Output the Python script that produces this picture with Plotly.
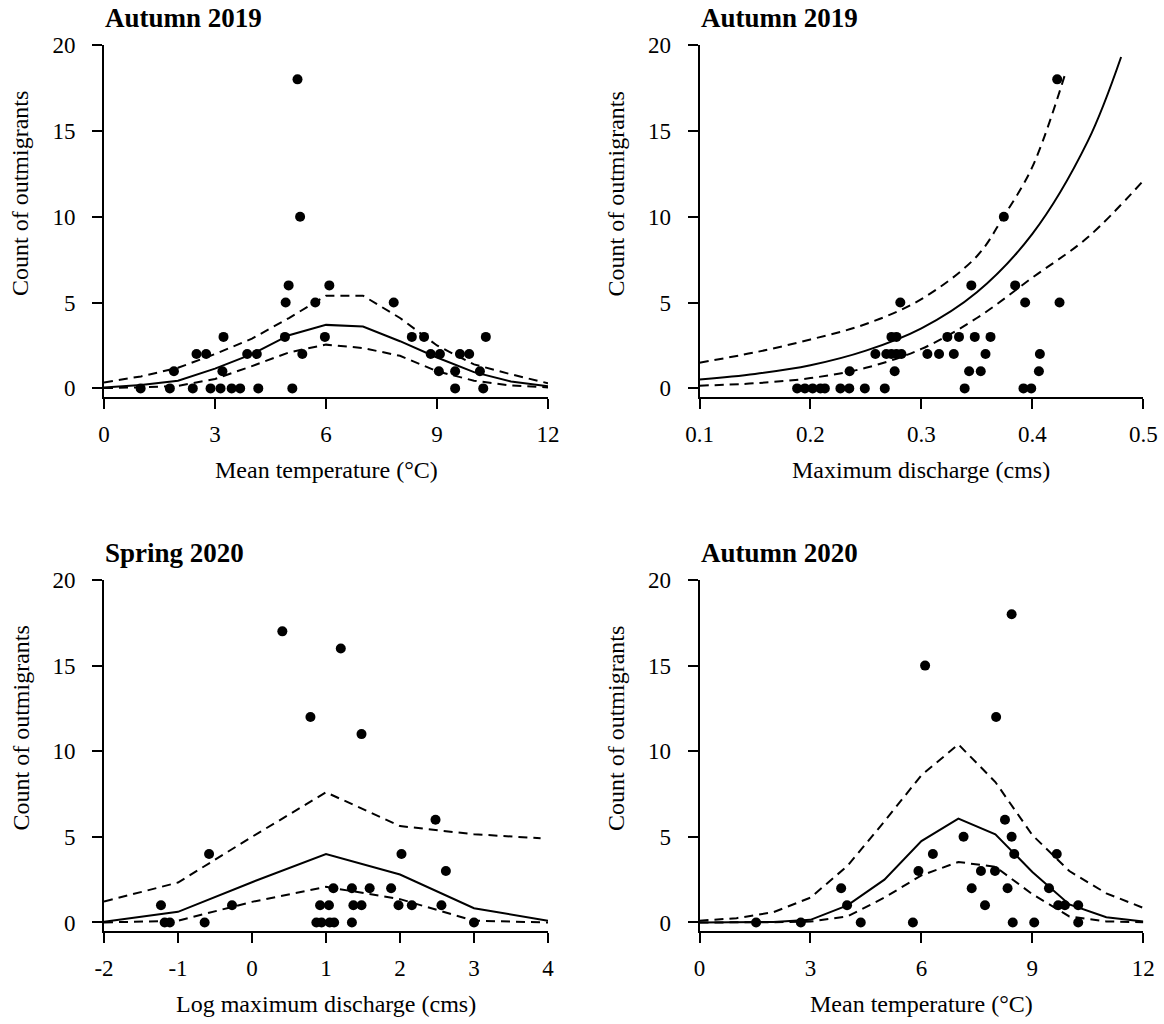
import plotly.graph_objects as go

FONT = "Liberation Serif, Times New Roman, serif"

# ---------------- Panel 1: Autumn 2019 vs mean temperature ----------------
a19_temp_x = [5.23, 5.30, 4.99, 6.09, 4.91, 5.71, 7.83,
              3.23, 4.89, 5.97, 8.32, 8.65, 10.32,
              2.50, 2.76, 3.87, 4.13, 5.36, 8.83, 9.08, 9.62, 9.87,
              1.89, 3.20, 9.05, 9.49, 10.16,
              0.99, 1.78, 2.40, 2.88, 3.15, 3.45, 3.68, 4.17, 5.09, 9.49, 10.25]
a19_temp_y = [18, 10, 6, 6, 5, 5, 5,
              3, 3, 3, 3, 3, 3,
              2, 2, 2, 2, 2, 2, 2, 2, 2,
              1, 1, 1, 1, 1,
              0, 0, 0, 0, 0, 0, 0, 0, 0, 0, 0]
a19_temp_grid = [0, 1, 2, 3, 4, 5, 6, 7, 8, 9, 10, 11, 12]
a19_temp_fit = [0.06, 0.2, 0.45, 1.15, 2.0, 3.1, 3.7, 3.6, 2.75, 1.8, 0.95, 0.4, 0.12]
a19_temp_upper = [0.35, 0.7, 1.2, 2.0, 2.9, 4.1, 5.4, 5.4, 4.1, 2.5, 1.4, 0.82, 0.3]
a19_temp_lower = [0.02, 0.06, 0.15, 0.55, 1.3, 2.1, 2.55, 2.35, 1.9, 1.0, 0.45, 0.17, 0.06]

# ---------------- Panel 2: Autumn 2019 vs maximum discharge ----------------
a19_dis_x = [0.4224, 0.3743, 0.345, 0.3845, 0.281, 0.3935, 0.4245,
             0.273, 0.2775, 0.3234, 0.3339, 0.3481, 0.3623,
             0.2585, 0.2684, 0.2730, 0.2775, 0.2820, 0.3054, 0.3159, 0.3292, 0.3578, 0.4068,
             0.2353, 0.2759, 0.343, 0.3535, 0.4059,
             0.188, 0.195, 0.202, 0.209, 0.213, 0.227, 0.235, 0.249, 0.267, 0.339, 0.392, 0.399]
a19_dis_y = [18, 10, 6, 6, 5, 5, 5,
             3, 3, 3, 3, 3, 3,
             2, 2, 2, 2, 2, 2, 2, 2, 2, 2,
             1, 1, 1, 1, 1,
             0, 0, 0, 0, 0, 0, 0, 0, 0, 0, 0, 0]
a19_dis_fit_x = [0.10, 0.15, 0.20, 0.25, 0.30, 0.35, 0.40, 0.45, 0.48]
a19_dis_fit = [0.52, 0.84, 1.35, 2.2, 3.5, 5.6, 9.0, 14.4, 19.3]
a19_dis_upper_x = [0.10, 0.15, 0.20, 0.25, 0.30, 0.35, 0.374, 0.40, 0.43]
a19_dis_upper = [1.5, 2.1, 2.85, 3.75, 5.2, 7.7, 10.0, 12.9, 18.4]
a19_dis_lower_x = [0.10, 0.15, 0.20, 0.25, 0.30, 0.35, 0.40, 0.45, 0.50]
a19_dis_lower = [0.16, 0.3, 0.6, 1.2, 2.3, 4.1, 6.45, 8.8, 12.1]

# ---------------- Panel 3: Spring 2020 vs log maximum discharge ----------------
s20_logdis_x = [0.41, 1.20, 0.79, 1.48, 2.48, -0.58, 2.02, 2.62,
                1.10, 1.35, 1.59, 1.88,
                -1.23, -0.27, 0.92, 1.04, 1.37, 1.48, 1.98, 2.16, 2.56,
                -1.18, -1.11, -0.64, 0.87, 0.94, 1.05, 1.11, 1.35, 3.0]
s20_logdis_y = [17, 16, 12, 11, 6, 4, 4, 3,
                2, 2, 2, 2,
                1, 1, 1, 1, 1, 1, 1, 1, 1,
                0, 0, 0, 0, 0, 0, 0, 0, 0]
s20_grid = [-2, -1, 0, 1, 2, 3, 4]
s20_fit = [0.04, 0.62, 2.35, 4.0, 2.8, 0.83, 0.1]
s20_upper_x = [-2, -1, 0, 1, 2, 3, 3.9]
s20_upper = [1.22, 2.33, 5.0, 7.6, 5.63, 5.15, 4.92]
s20_lower = [0.0, 0.1, 1.2, 2.08, 1.36, 0.1, 0.0]

# ---------------- Panel 4: Autumn 2020 vs mean temperature ----------------
a20_temp_x = [8.44, 6.10, 8.02, 8.26, 7.14, 8.44, 6.31, 8.51, 9.66,
              5.92, 7.61, 7.99, 3.83, 7.36, 8.33, 9.45,
              3.99, 7.72, 9.70, 9.88, 10.24,
              1.53, 2.74, 4.36, 5.77, 8.47, 9.05, 10.24]
a20_temp_y = [18, 15, 12, 6, 5, 5, 4, 4, 4,
              3, 3, 3, 2, 2, 2, 2,
              1, 1, 1, 1, 1,
              0, 0, 0, 0, 0, 0, 0]
a20_grid = [0, 1, 2, 3, 4, 5, 6, 7, 8, 9, 10, 11, 12]
a20_fit = [0.0, 0.01, 0.03, 0.15, 1.0, 2.5, 4.75, 6.06, 5.15, 2.95, 1.05, 0.3, 0.06]
a20_upper = [0.1, 0.25, 0.6, 1.45, 3.3, 5.9, 8.6, 10.4, 8.2, 5.1, 3.0, 1.7, 0.85]
a20_lower = [0.0, 0.0, 0.01, 0.05, 0.35, 1.45, 2.75, 3.53, 3.25, 1.65, 0.35, 0.06, 0.01]

titles = ["Autumn 2019", "Autumn 2019", "Spring 2020", "Autumn 2020"]
x_titles = ["Mean temperature (°C)", "Maximum discharge (cms)",
            "Log maximum discharge (cms)", "Mean temperature (°C)"]
y_title = "Count of outmigrants"

W, H = 1164, 1024
fig = go.Figure()

DASH = "9px,6px"


def add_panel(n, px, py, fx, fy, ux, uy, lx, ly, spline=False):
    xa = "x" if n == 1 else f"x{n}"
    ya = "y" if n == 1 else f"y{n}"
    shape = "spline" if spline else "linear"
    fig.add_trace(go.Scatter(x=ux, y=uy, mode="lines", xaxis=xa, yaxis=ya,
                             line=dict(color="black", width=2, dash=DASH, shape=shape),
                             showlegend=False, hoverinfo="skip"))
    fig.add_trace(go.Scatter(x=lx, y=ly, mode="lines", xaxis=xa, yaxis=ya,
                             line=dict(color="black", width=2, dash=DASH, shape=shape),
                             showlegend=False, hoverinfo="skip"))
    fig.add_trace(go.Scatter(x=fx, y=fy, mode="lines", xaxis=xa, yaxis=ya,
                             line=dict(color="black", width=2, shape=shape),
                             showlegend=False))
    fig.add_trace(go.Scatter(x=px, y=py, mode="markers", xaxis=xa, yaxis=ya,
                             marker=dict(color="black", size=10),
                             showlegend=False))


add_panel(1, a19_temp_x, a19_temp_y, a19_temp_grid, a19_temp_fit,
          a19_temp_grid, a19_temp_upper, a19_temp_grid, a19_temp_lower)
add_panel(2, a19_dis_x, a19_dis_y, a19_dis_fit_x, a19_dis_fit,
          a19_dis_upper_x, a19_dis_upper, a19_dis_lower_x, a19_dis_lower, spline=True)
add_panel(3, s20_logdis_x, s20_logdis_y, s20_grid, s20_fit,
          s20_upper_x, s20_upper, s20_grid, s20_lower)
add_panel(4, a20_temp_x, a20_temp_y, a20_grid, a20_fit,
          a20_grid, a20_upper, a20_grid, a20_lower)

# pixel layout
left_cols = [(104, 548), (699.5, 1143.3)]
rows = [(45, 397), (580, 931)]


def dom_x(c):
    return [c[0] / W, c[1] / W]


def dom_y(r):
    return [1 - r[1] / H, 1 - r[0] / H]


common = dict(showline=True, linecolor="black", linewidth=2, ticks="outside",
              ticklen=10, tickwidth=2, tickcolor="black", showgrid=False,
              zeroline=False, automargin=False,
              tickfont=dict(family=FONT, size=23, color="black"))

xranges = [[0, 12], [0.1, 0.5], [-2, 4], [0, 12]]
xticks = [[0, 3, 6, 9, 12], [0.1, 0.2, 0.3, 0.4, 0.5], [-2, -1, 0, 1, 2, 3, 4], [0, 3, 6, 9, 12]]
xtext = [["0", "3", "6", "9", "12"], ["0.1", "0.2", "0.3", "0.4", "0.5"],
         ["-2", "-1", "0", "1", "2", "3", "4"], ["0", "3", "6", "9", "12"]]
yticks = [0, 5, 10, 15, 20]
ytext = ["0", "5", "10", "15", "20"]

annotations = []
for i in range(4):
    n = i + 1
    col = left_cols[i % 2]
    row = rows[i // 2]
    xk = "xaxis" if n == 1 else f"xaxis{n}"
    yk = "yaxis" if n == 1 else f"yaxis{n}"
    ya = "y" if n == 1 else f"y{n}"
    xa = "x" if n == 1 else f"x{n}"
    fig.layout[xk] = dict(common, domain=dom_x(col), range=xranges[i], anchor=ya,
                          tickvals=xticks[i], ticktext=xtext[i], ticklabelstandoff=5)
    fig.layout[yk] = dict(common, domain=dom_y(row), range=[-0.5, 20], anchor=xa,
                          tickvals=yticks, ticktext=ytext, ticklabelstandoff=12)
    # panel title
    annotations.append(dict(text=f"<b>{titles[i]}</b>", xref="paper", yref="paper",
                            x=(col[0] - 1) / W, y=1 - (row[0] - 27) / H,
                            xanchor="left", yanchor="middle", showarrow=False,
                            font=dict(family=FONT, size=27, color="black")))
    # x title
    annotations.append(dict(text=x_titles[i], xref="paper", yref="paper",
                            x=(col[0] + col[1]) / 2 / W, y=1 - (row[1] + 73) / H,
                            xanchor="center", yanchor="middle", showarrow=False,
                            font=dict(family=FONT, size=24, color="black")))
    # y title
    annotations.append(dict(text=y_title, xref="paper", yref="paper",
                            x=(col[0] - 84) / W, y=1 - ((row[0] + row[1]) / 2 - 27) / H,
                            xanchor="center", yanchor="middle", showarrow=False, textangle=-90,
                            font=dict(family=FONT, size=24, color="black")))

fig.update_layout(width=W, height=H, margin=dict(l=0, r=0, t=0, b=0, autoexpand=False),
                  plot_bgcolor="white", paper_bgcolor="white",
                  annotations=annotations, showlegend=False)

fig.write_html("out.html")
